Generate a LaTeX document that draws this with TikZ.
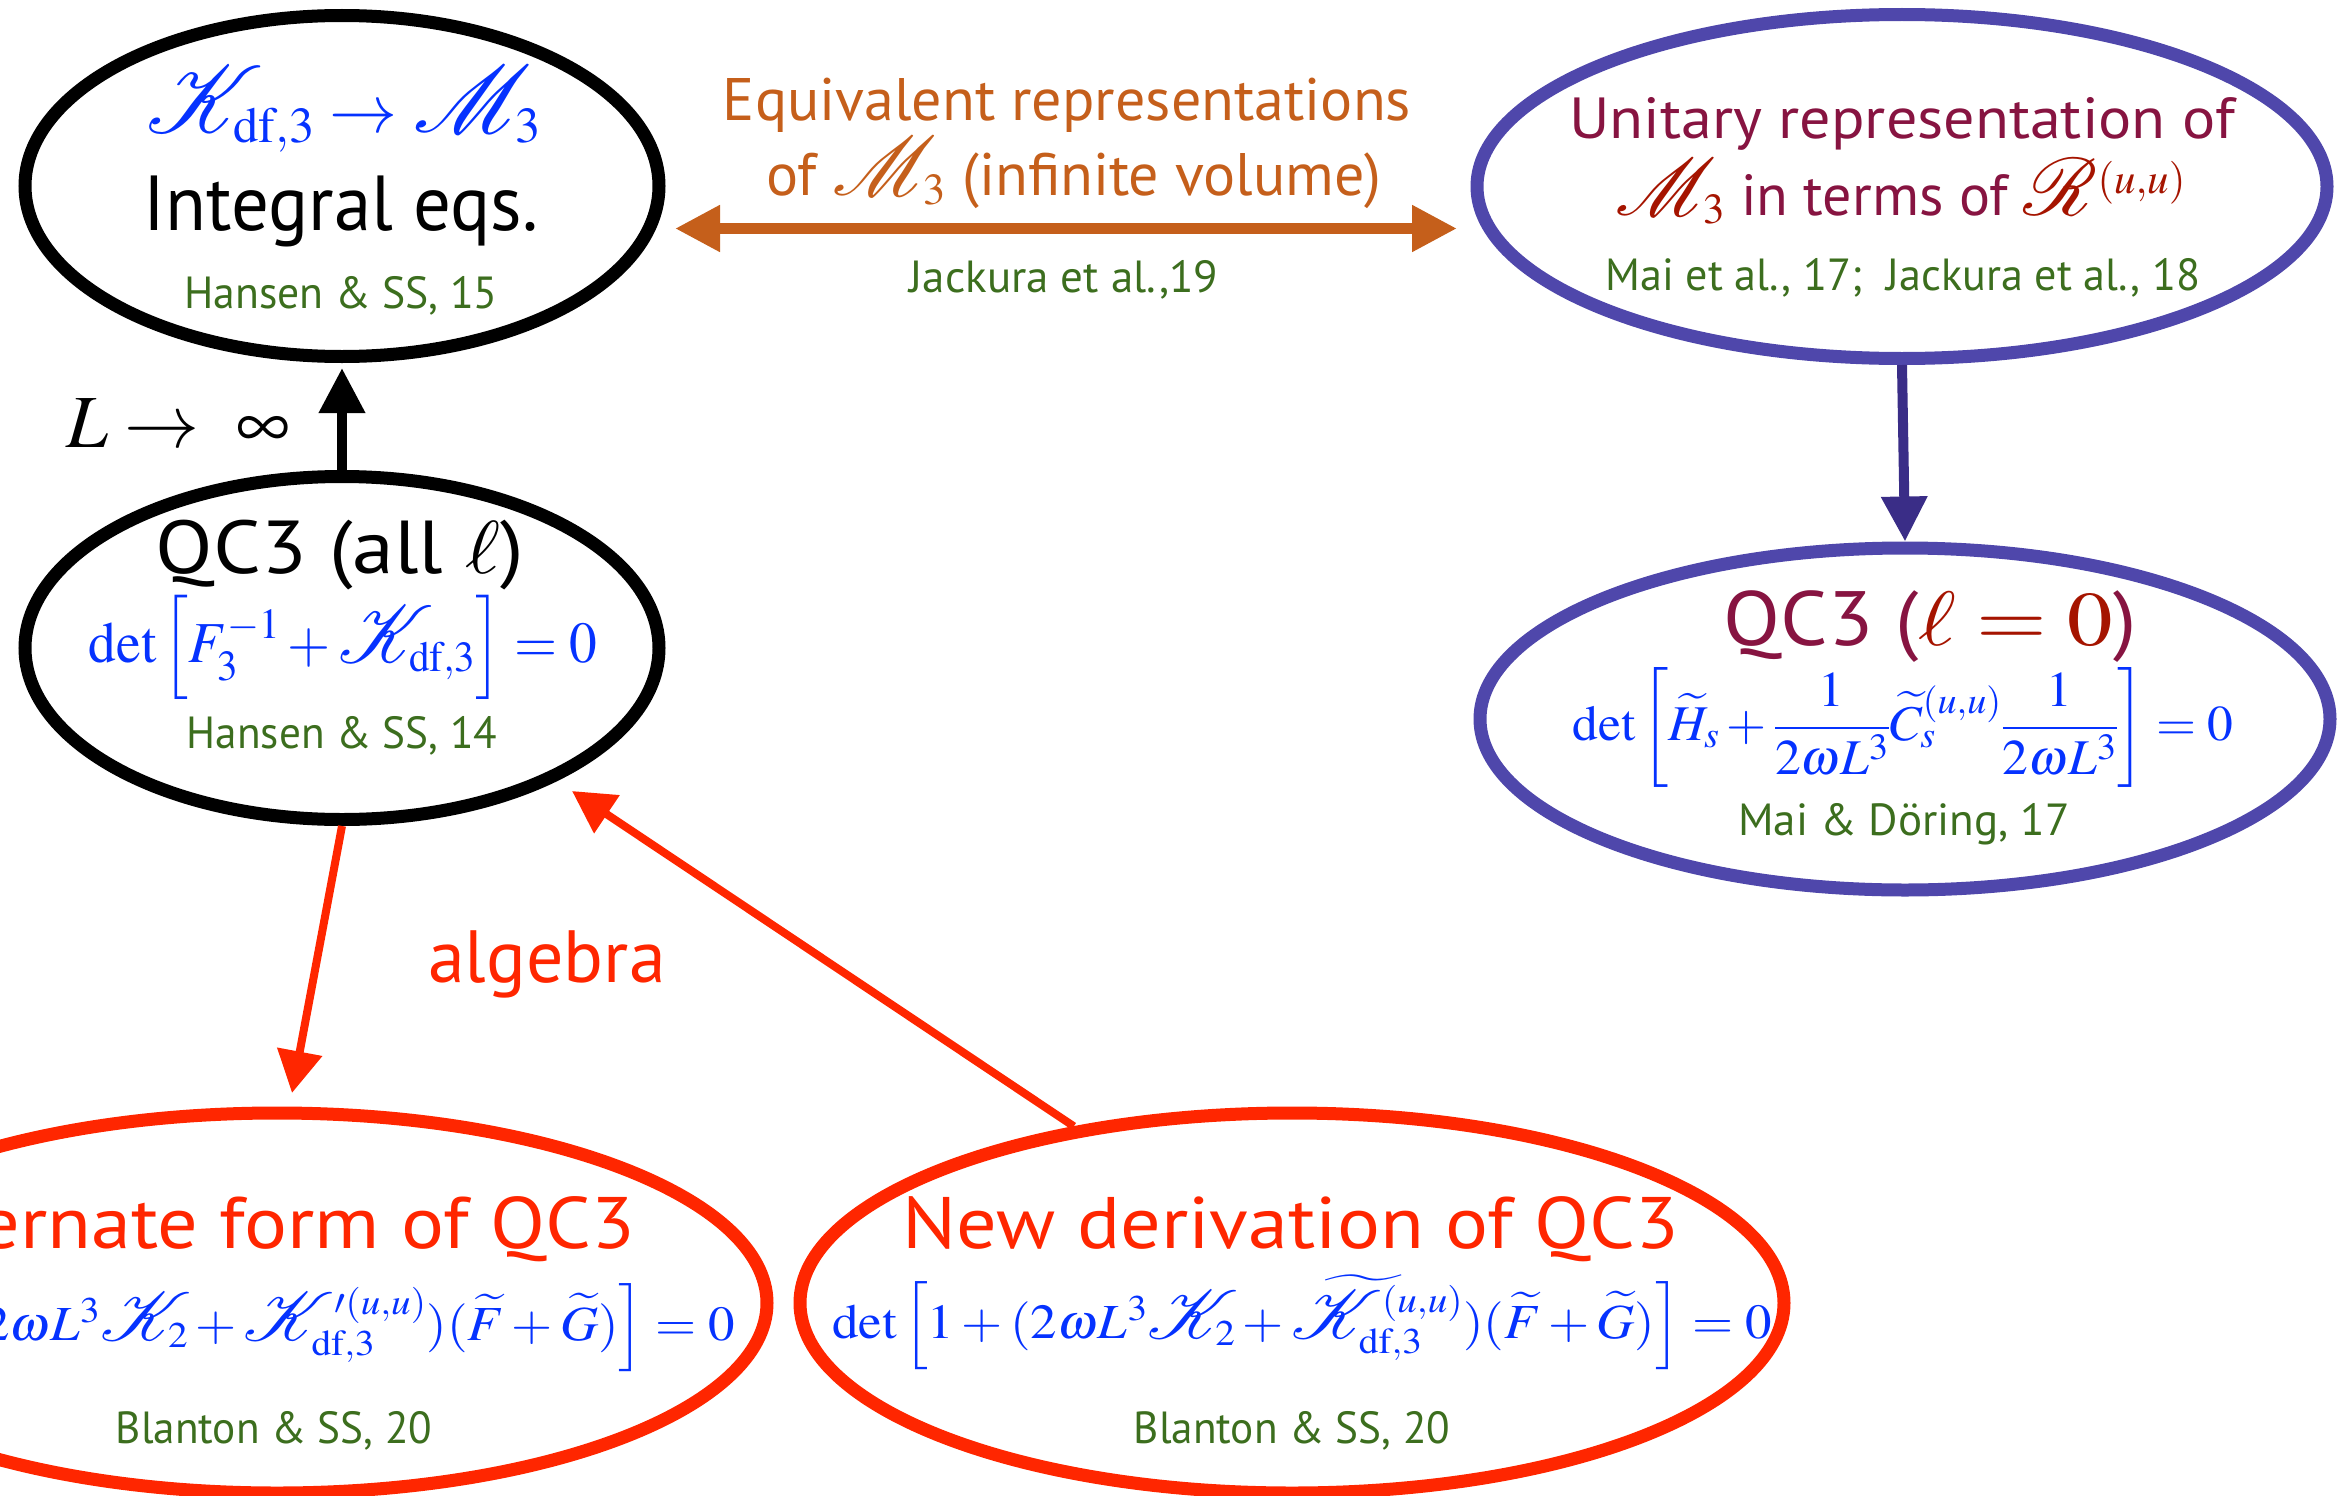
\documentclass[tikz,border=0pt]{standalone}
\usepackage{mathptmx}
\usepackage{amsmath}
\usepackage{graphicx}
\usepackage[no-math]{fontspec}
\setmainfont{PT Sans}
\DeclareFontFamily{U}{rsfsx}{\skewchar\font127 }
\DeclareFontShape{U}{rsfsx}{m}{n}{<-> s*[1.4] rsfs10}{}
\DeclareMathAlphabet{\mathscr}{U}{rsfsx}{m}{n}
\usetikzlibrary{shapes.geometric,arrows.meta,calc}
\definecolor{cblue}{RGB}{5,50,255}
\definecolor{cgreen}{RGB}{60,110,30}
\definecolor{corange}{RGB}{197,95,27}
\definecolor{cpurple}{RGB}{79,71,171}
\definecolor{cpurpdark}{RGB}{58,45,135}
\definecolor{cred}{RGB}{255,38,0}
\definecolor{cmaroon}{RGB}{135,20,65}
\definecolor{cdarkred}{RGB}{165,20,0}
\newcommand\myfs[1]{\fontsize{#1}{#1}\selectfont}
\newcommand\sx[2]{\scalebox{#1}[1]{#2}}
\begin{document}
\begin{tikzpicture}[x=1pt,y=-1pt,
  ell/.style={ellipse, draw, inner sep=0pt, line width=13pt},
  txt/.style={anchor=base, inner sep=0pt, outer sep=0pt},
  refs/.style={txt, text=cgreen, font=\myfs{45}},
  arr/.style={line width=#1, -{Triangle[length=45pt,width=44pt]}},
  rarr/.style={line width=8pt, draw=cred, -{Triangle[length=42pt,width=44pt]}, fill=cred}
]
\useasboundingbox (0,0) rectangle (2351,1496);

% ellipses
\node[ell, draw=black, minimum width=634, minimum height=341] (A) at (342,186) {};
\node[ell, draw=cpurple, minimum width=850, minimum height=344] (B) at (1902,186.5) {};
\node[ell, draw=black, minimum width=634, minimum height=343] (C) at (342,648) {};
\node[ell, draw=cpurple, minimum width=850, minimum height=342] (D) at (1905,719) {};
\node[ell, draw=cred, minimum width=980, minimum height=380] (E) at (277,1303) {};
\node[ell, draw=cred, minimum width=984, minimum height=380] (F) at (1292,1303) {};

% texts A
\node[txt, text=cblue, font=\myfs{68}] (A1) at (344,132) {$\mathscr{K}_{\mathrm{df},3}\to\mathscr{M}_3$};
\node[txt, font=\myfs{78}] (A2) at (341,230) {\sx{0.96}{Integral eqs.}};
\node[refs] (A3) at (341,308) {\sx{0.97}{Hansen \& SS, 15}};

% texts B
\node[txt, text=cmaroon, font=\myfs{58}] (B1) at (1902,138) {\sx{1.07}{Unitary representation of}};
\node[txt, text=cmaroon, font=\myfs{58}] (B2) at (1901,215) {\textcolor{cdarkred}{$\mathscr{M}_3$} in terms of \textcolor{cdarkred}{$\mathscr{R}^{(u,u)}$}};
\node[refs] (B3) at (1903,290) {\sx{0.98}{Mai et al., 17;\ \ Jackura et al., 18}};

% orange middle
\node[txt, text=corange, font=\myfs{60}] (O1) at (1067,120) {Equivalent representations};
\node[txt, text=corange, font=\myfs{60}] (O2) at (1074,195) {of $\mathscr{M}_3$ (infinite volume)};
\node[refs] (O3) at (1064,292) {Jackura et al.,19};

% texts C
\node[txt, font=\myfs{75}] (C1) at (340,573) {\sx{1.12}{QC3 (all $\ell$)}};
\node[txt, text=cblue, font=\myfs{58}] (C2) at (343,662) {\sx{0.955}{$\det\Big[F_3^{-1}+\mathscr{K}_{\mathrm{df},3}\Big]=0$}};
\node[refs] (C3) at (342,748) {\sx{0.96}{Hansen \& SS, 14}};

% texts D
\node[txt, text=cmaroon, font=\myfs{77}] (D1) at (1930,645) {\sx{1.08}{QC3 (}\textcolor{cdarkred}{\sx{1.18}{$\ell=0$}}\sx{1.08}{)}};
\node[txt, text=cblue, font=\myfs{50}] (D2) at (1903,740) {\sx{1.03}{$\det\left[\widetilde{H}_s+\dfrac{1}{2\omega L^3}\widetilde{C}_s^{(u,u)}\dfrac{1}{2\omega L^3}\right]=0$}};
\node[refs] (D3) at (1904,835) {Mai \& Döring, 17};

% texts E
\node[txt, anchor=base east, text=cred, font=\myfs{73}] (E1) at (635,1248) {\sx{1.10}{Alternate form of QC3}};
\node[txt, anchor=base east, text=cblue, font=\myfs{49}] (E2) at (735,1340) {\sx{1.08}{$\det\Big[1+(2\omega L^3\mathscr{K}_2+\mathscr{K}'^{(u,u)}_{\mathrm{df},3})(\widetilde{F}+\widetilde{G})\Big]=0$}};
\node[refs] (E3) at (274,1443) {\sx{0.96}{Blanton \& SS, 20}};

% texts F
\node[txt, text=cred, font=\myfs{73}] (F1) at (1291,1248) {\sx{1.10}{New derivation of QC3}};
\node[txt, text=cblue, font=\myfs{49}] (F2) at (1302,1338) {\sx{1.08}{$\det\Big[1+(2\omega L^3\mathscr{K}_2+\widetilde{\mathscr{K}}^{(u,u)}_{\mathrm{df},3})(\widetilde{F}+\widetilde{G})\Big]=0$}};
\node[refs] (F3) at (1292,1443) {\sx{0.96}{Blanton \& SS, 20}};

% labels
\node[txt, font=\myfs{75}] (Llab) at (178,447) {$L\to\ \infty$};
\node[txt, text=cred, font=\myfs{74}] (alg) at (547,982) {algebra};

% connectors
\coordinate (oL) at (675,228.5);
\coordinate (oR) at (1457,228.5);
\draw[line width=11pt, draw=corange, fill=corange, {Triangle[length=45pt,width=44pt]}-{Triangle[length=45pt,width=44pt]}] (oL) -- (oR);
\draw[arr=10pt, fill=black, shorten >=5pt] (C.north) -- (A.south);
\draw[arr=10pt, draw=cpurpdark, fill=cpurpdark] (B.south) -- (D.north);
\coordinate (t1) at (292,1093);
\coordinate (t2) at (572,791);
\draw[rarr] (C.south) -- (t1);
\draw[rarr] (F.141) -- (t2);
\end{tikzpicture}
\end{document}
